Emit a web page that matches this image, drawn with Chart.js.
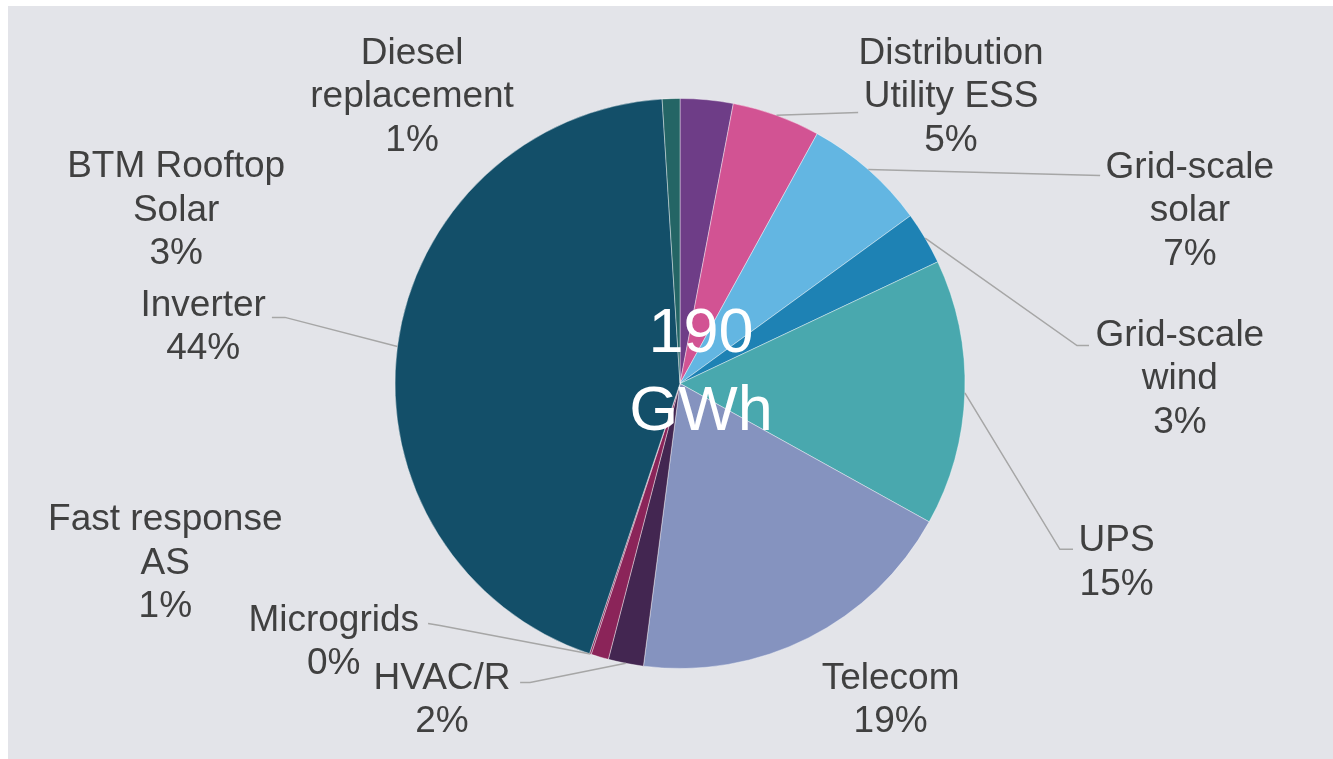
<!DOCTYPE html>
<html>
<head>
<meta charset="utf-8">
<script src="https://cdn.jsdelivr.net/npm/chart.js@4.4.1/dist/chart.umd.min.js"></script>
<style>
  html, body { margin: 0; padding: 0; background: #ffffff; overflow: hidden; }
  #wrap { position: absolute; left: 8px; top: 6px; right: 0; bottom: 0; background: #E3E4E9; }
  canvas { display: block; }
</style>
</head>
<body>
<div id="wrap"><canvas id="c"></canvas></div>
<script>
// ---- Data ----
const categories = [
  ['BTM Rooftop', 'Solar'],
  ['Distribution', 'Utility ESS'],
  ['Grid-scale', 'solar'],
  ['Grid-scale', 'wind'],
  ['UPS'],
  ['Telecom'],
  ['HVAC/R'],
  ['Fast response', 'AS'],
  ['Microgrids'],
  ['Inverter'],
  ['Diesel', 'replacement']
];
const shares = [3.0, 5.0, 7.0, 3.0, 15.1, 19.0, 2.0, 1.0, 0.1, 43.9, 1.0];
const centerTitle = ['190', 'GWh'];

// ---- Styling ----
const sliceColors = ['#6E3D87', '#D25393', '#63B6E2', '#1E82B4', '#49A8AE', '#8593BF',
                     '#432651', '#8B2459', '#8B2459', '#134F69', '#246565'];

// Label layout, in units of the pie radius relative to the pie centre.
// pos: centre of first text line; lead: leader polyline after the slice edge point.
const labelLayout = [
  { pos: [-1.768, -0.760] },
  { pos: [ 0.951, -1.158], lead: [[0.625, -0.951]] },
  { pos: [ 1.789, -0.757], lead: [[1.474, -0.730]] },
  { pos: [ 1.754, -0.169], lead: [[1.393, -0.133], [1.435, -0.133]] },
  { pos: [ 1.532,  0.553], lead: [[1.333, 0.582], [1.379, 0.582]] },
  { pos: [ 0.739,  1.036] },
  { pos: [-0.835,  1.036], lead: [[-0.526, 1.049], [-0.561, 1.049]] },
  { pos: [-1.806,  0.479] },
  { pos: [-1.215,  0.831], lead: [[-0.842, 0.849], [-0.884, 0.842]] },
  { pos: [-1.673, -0.274], lead: [[-1.386, -0.232], [-1.432, -0.232]] },
  { pos: [-0.940, -1.158] }
];

const labelFont = '37px "Liberation Sans", Arial, sans-serif';
const labelColor = '#404040';
const lineHeight = 43.5;
const leaderColor = '#A6A6A6';

const total = shares.reduce((a, b) => a + b, 0);

const labelPlugin = {
  id: 'pieLabels',
  afterDatasetsDraw(chart) {
    const ctx = chart.ctx;
    const arcs = chart.getDatasetMeta(0).data;
    if (!arcs.length) return;
    const cx = arcs[0].x, cy = arcs[0].y, r = arcs[0].outerRadius;

    // leader lines
    ctx.save();
    ctx.strokeStyle = leaderColor;
    ctx.lineWidth = 1.5;
    arcs.forEach((arc, i) => {
      const lay = labelLayout[i];
      if (!lay.lead) return;
      const mid = (arc.startAngle + arc.endAngle) / 2;
      ctx.beginPath();
      ctx.moveTo(cx + Math.cos(mid) * r, cy + Math.sin(mid) * r);
      lay.lead.forEach(p => ctx.lineTo(cx + p[0] * r, cy + p[1] * r));
      ctx.stroke();
    });
    ctx.restore();

    // labels
    ctx.save();
    ctx.font = labelFont;
    ctx.fillStyle = labelColor;
    ctx.textAlign = 'center';
    ctx.textBaseline = 'middle';
    categories.forEach((name, i) => {
      const lay = labelLayout[i];
      const pct = Math.round(shares[i] / total * 100) + '%';
      const lines = name.concat([pct]);
      const x = cx + lay.pos[0] * r, y = cy + lay.pos[1] * r;
      lines.forEach((t, k) => ctx.fillText(t, x, y + k * lineHeight));
    });
    ctx.restore();

    // centre title
    ctx.save();
    ctx.font = '63px "Liberation Sans", Arial, sans-serif';
    ctx.fillStyle = '#ffffff';
    ctx.textAlign = 'center';
    ctx.textBaseline = 'alphabetic';
    const tx = cx + 0.074 * r;
    ctx.fillText(centerTitle[0], tx, cy - 0.109 * r);
    ctx.fillText(centerTitle[1], tx, cy + 0.162 * r);
    ctx.restore();
  }
};

new Chart(document.getElementById('c'), {
  type: 'pie',
  data: {
    labels: categories.map(c => c.join(' ')),
    datasets: [{
      data: shares,
      backgroundColor: sliceColors,
      borderColor: 'rgba(255,255,255,0.4)',
      borderWidth: 1
    }]
  },
  options: {
    responsive: true,
    maintainAspectRatio: false,
    animation: false,
    layout: { padding: { top: 92, bottom: 90, left: 300, right: 281 } },
    plugins: { legend: { display: false }, tooltip: { enabled: false } }
  },
  plugins: [labelPlugin]
});
</script>
</body>
</html>
